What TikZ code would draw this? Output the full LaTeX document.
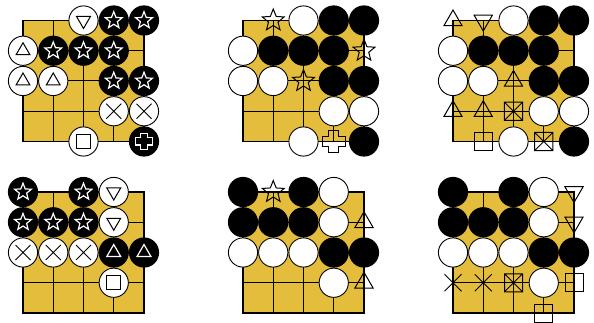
\documentclass[tikz,border=0pt]{standalone}
\definecolor{boardc}{RGB}{229,189,60}
\tikzset{
 wst/.style={circle, draw=black, fill=white, line width=0.9pt, minimum size=29.2pt, inner sep=0pt},
 bst/.style={circle, fill=black, minimum size=30.2pt, inner sep=0pt},
 gline/.style={line width=1pt, black},
 gedge/.style={line width=1.1pt, black},
 mw/.style={draw=white, line width=1.2pt, line join=miter},
 mb/.style={draw=black, line width=1pt, line join=miter},
 pics/gtri/.style 2 args={code={\draw[#2] (90:#1) -- (210:#1) -- (330:#1) -- cycle;}},
 pics/gtrid/.style 2 args={code={\draw[#2] (270:#1) -- (30:#1) -- (150:#1) -- cycle;}},
 pics/gstar/.style n args={3}{code={\draw[#3] (90:#1) -- (126:#2) -- (162:#1) -- (198:#2) -- (234:#1) -- (270:#2) -- (306:#1) -- (342:#2) -- (18:#1) -- (54:#2) -- cycle;}},
 pics/gx/.style 2 args={code={\draw[#2] (-#1,-#1) -- (#1,#1) (-#1,#1) -- (#1,-#1);}},
 pics/gsq/.style 2 args={code={\draw[#2] (-#1,-#1) rectangle (#1,#1);}},
 pics/gbx/.style 2 args={code={\draw[#2] (-#1,-#1) rectangle (#1,#1) (-#1,-#1) -- (#1,#1) (-#1,#1) -- (#1,-#1);}},
 pics/gplus/.style n args={3}{code={\draw[#3] (-#2,-#1) -- (#2,-#1) -- (#2,-#2) -- (#1,-#2) -- (#1,#2) -- (#2,#2) -- (#2,#1) -- (-#2,#1) -- (-#2,#2) -- (-#1,#2) -- (-#1,-#2) -- (-#2,-#2) -- cycle;}},
 board/.style={x=30.25pt, y=-30.25pt}
}
\newcommand\goboard{%
 \fill[boardc] (0,0) rectangle (4,4);
 \foreach \i in {1,2,3}{\draw[gline] (\i,0) -- (\i,4); \draw[gline] (0,\i) -- (4,\i);}
 \draw[gedge] (0,0) rectangle (4,4);}
\newcommand\gw[2]{\node[wst] (\bd-#1-#2) at (#1,#2) {};}
\newcommand\gb[2]{\node[bst] (\bd-#1-#2) at (#1,#2) {};}
% sizes
\def\sTri{8pt}\def\eTri{10.5pt}
\begin{document}
\begin{tikzpicture}
\fill[white] (0,0) rectangle (594pt,-323pt);
\useasboundingbox (0,0) rectangle (594pt,-323pt);
% ---------- board 1
\begin{scope}[shift={(23pt,-20.5pt)}, board]
\def\bd{a}
\goboard
\gw{2}{0}\gb{3}{0}\gb{4}{0}
\gw{0}{1}\gb{1}{1}\gb{2}{1}\gb{3}{1}
\gw{0}{2}\gw{1}{2}\gb{3}{2}\gb{4}{2}
\gw{3}{3}\gw{4}{3}
\gw{2}{4}\gb{4}{4}
\pic at (a-2-0) {gtrid={\sTri}{mb}};
\foreach \p in {3-0,4-0,1-1,2-1,3-1,3-2,4-2}{\pic at (a-\p) {gstar={8.8pt}{3.8pt}{mw}};}
\foreach \p in {0-1,0-2,1-2}{\pic at (a-\p) {gtri={\sTri}{mb}};}
\foreach \p in {3-3,4-3}{\pic at (a-\p) {gx={7.5pt}{mb}};}
\pic at (a-2-4) {gsq={7pt}{mb}};
\pic at (a-4-4) {gplus={8.3pt}{3.6pt}{mw}};
\end{scope}
% ---------- board 2
\begin{scope}[shift={(243pt,-20.5pt)}, board]
\def\bd{b}
\goboard
\gw{2}{0}\gb{3}{0}\gb{4}{0}
\gw{0}{1}\gb{1}{1}\gb{2}{1}\gb{3}{1}
\gw{0}{2}\gw{1}{2}\gb{3}{2}\gb{4}{2}
\gw{3}{3}\gw{4}{3}
\gw{2}{4}\gb{4}{4}
\pic at (1,0) {gstar={11.5pt}{5pt}{mb}};
\pic at (4,1) {gstar={11.5pt}{5pt}{mb}};
\pic at (2,2) {gstar={11.5pt}{5pt}{mb}};
\pic at (3,4) {gplus={11.3pt}{4.8pt}{mb}};
\end{scope}
% ---------- board 3
\begin{scope}[shift={(453pt,-20.5pt)}, board]
\def\bd{c}
\goboard
\gw{2}{0}\gb{3}{0}\gb{4}{0}
\gw{0}{1}\gb{1}{1}\gb{2}{1}\gb{3}{1}
\gw{0}{2}\gw{1}{2}\gb{3}{2}\gb{4}{2}
\gw{3}{3}\gw{4}{3}
\gw{2}{4}\gb{4}{4}
\pic at (0,0) {gtri={\eTri}{mb}};
\pic at (1,0) {gtrid={\eTri}{mb}};
\pic at (2,2) {gtri={\eTri}{mb}};
\pic at (0,3) {gtri={\eTri}{mb}};
\pic at (1,3) {gtri={\eTri}{mb}};
\pic at (2,3) {gbx={9.2pt}{mb}};
\pic at (1,4) {gsq={9.2pt}{mb}};
\pic at (3,4) {gbx={9.2pt}{mb}};
\end{scope}
% ---------- board 4
\begin{scope}[shift={(23pt,-192pt)}, board]
\def\bd{d}
\goboard
\gb{0}{0}\gb{2}{0}\gw{3}{0}
\gb{0}{1}\gb{1}{1}\gb{2}{1}\gw{3}{1}
\gw{0}{2}\gw{1}{2}\gw{2}{2}\gb{3}{2}\gb{4}{2}
\gw{3}{3}
\foreach \p in {0-0,2-0,0-1,1-1,2-1}{\pic at (d-\p) {gstar={8.8pt}{3.8pt}{mw}};}
\foreach \p in {3-0,3-1}{\pic at (d-\p) {gtrid={\sTri}{mb}};}
\foreach \p in {0-2,1-2,2-2}{\pic at (d-\p) {gx={7.5pt}{mb}};}
\foreach \p in {3-2,4-2}{\pic at (d-\p) {gtri={\sTri}{mw}};}
\pic at (d-3-3) {gsq={7pt}{mb}};
\end{scope}
% ---------- board 5
\begin{scope}[shift={(243pt,-192pt)}, board]
\def\bd{e}
\goboard
\gb{0}{0}\gb{2}{0}\gw{3}{0}
\gb{0}{1}\gb{1}{1}\gb{2}{1}\gw{3}{1}
\gw{0}{2}\gw{1}{2}\gw{2}{2}\gb{3}{2}\gb{4}{2}
\gw{3}{3}
\pic at (1,0) {gstar={11.5pt}{5pt}{mb}};
\pic at (4,1) {gtri={\eTri}{mb}};
\pic at (4,3) {gtri={\eTri}{mb}};
\end{scope}
% ---------- board 6
\begin{scope}[shift={(453pt,-192pt)}, board]
\def\bd{f}
\goboard
\gb{0}{0}\gb{2}{0}\gw{3}{0}
\gb{0}{1}\gb{1}{1}\gb{2}{1}\gw{3}{1}
\gw{0}{2}\gw{1}{2}\gw{2}{2}\gb{3}{2}\gb{4}{2}
\gw{3}{3}
\pic at (4,0) {gtrid={\eTri}{mb}};
\pic at (4,1) {gtrid={\eTri}{mb}};
\pic at (0,3) {gx={8.5pt}{mb}};
\pic at (1,3) {gx={8.5pt}{mb}};
\pic at (2,3) {gbx={9pt}{mb}};
\pic at (4,3) {gsq={9pt}{mb}};
\pic at (3,4) {gsq={9pt}{mb}};
\end{scope}
\end{tikzpicture}
\end{document}
